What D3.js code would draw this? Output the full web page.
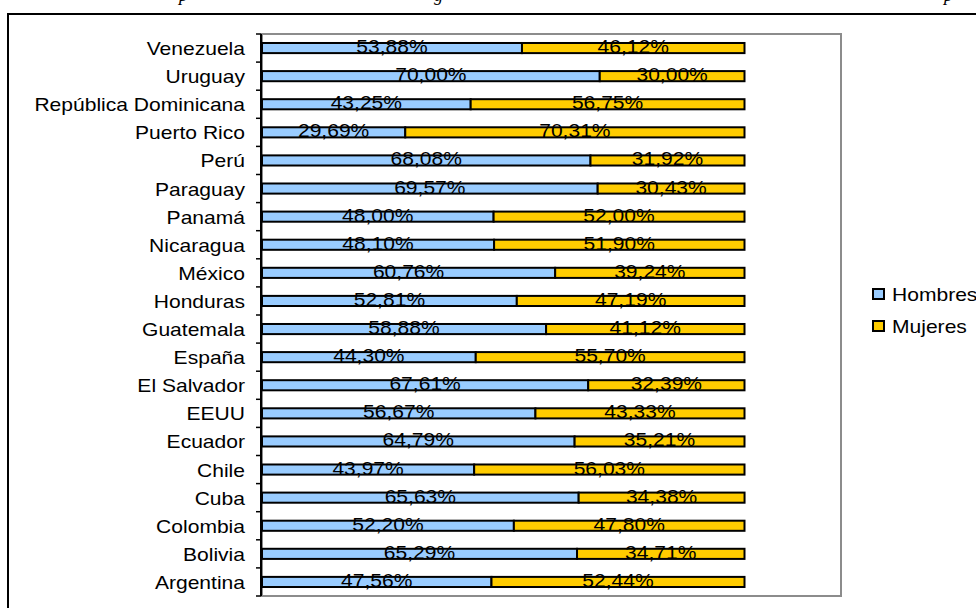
<!DOCTYPE html>
<html>
<head>
<meta charset="utf-8">
<script src="https://cdn.jsdelivr.net/npm/d3@7"></script>
<style>
  body { margin: 0; background: #fff; }
  svg { display: block; }
  text { font-family: "Liberation Sans", Arial, sans-serif; fill: #000; }
</style>
</head>
<body>
<svg width="976" height="608"></svg>
<script>
// datos: porcentaje de hombres y mujeres por país
var paises = ["Venezuela", "Uruguay", "República Dominicana", "Puerto Rico", "Perú",
    "Paraguay", "Panamá", "Nicaragua", "México", "Honduras", "Guatemala", "España",
    "El Salvador", "EEUU", "Ecuador", "Chile", "Cuba", "Colombia", "Bolivia", "Argentina"];
var hombres = [53.88, 70.00, 43.25, 29.69, 68.08, 69.57, 48.00, 48.10, 60.76, 52.81,
    58.88, 44.30, 67.61, 56.67, 64.79, 43.97, 65.63, 52.20, 65.29, 47.56];
var mujeres = [46.12, 30.00, 56.75, 70.31, 31.92, 30.43, 52.00, 51.90, 39.24, 47.19,
    41.12, 55.70, 32.39, 43.33, 35.21, 56.03, 34.38, 47.80, 34.71, 52.44];
var series = ["Hombres", "Mujeres"];
var colores = ["#99CCFF", "#FFCC00"];
var tituloLetras = ["p", "g", "p"];   // restos del título cortado arriba

var stretch = 1.17;
var plot = {left: 262, right: 841, top: 34, bottom: 596};

var svg = d3.select("svg");

// marco exterior
svg.append("path")
    .attr("d", "M8,620 L8,14 L990,14")
    .attr("fill", "none")
    .attr("stroke", "#000")
    .attr("stroke-width", 2);

// restos del título (solo se ven los trazos descendentes)
svg.selectAll(".tit")
    .data(tituloLetras)
    .enter().append("text")
    .attr("class", "tit")
    .attr("x", function (d, i) { return [179, 434, 944][i]; })
    .attr("y", 1)
    .style("font-family", "'Liberation Serif', serif")
    .style("font-style", "italic")
    .style("font-size", "18px")
    .text(function (d) { return d; });

var x = d3.scaleLinear().domain([0, 120]).range([plot.left, plot.right]);
var y = d3.scaleBand().domain(paises).range([plot.top, plot.bottom])
    .paddingInner(0.64).paddingOuter(0.32);

// borde del área de trazado
svg.append("rect")
    .attr("x", plot.left)
    .attr("y", plot.top)
    .attr("width", plot.right - plot.left)
    .attr("height", plot.bottom - plot.top)
    .attr("fill", "none")
    .attr("stroke", "#8c8c8c")
    .attr("stroke-width", 2);

// apilar
var filas = paises.map(function (p, i) {
    return {pais: p, Hombres: hombres[i], Mujeres: mujeres[i]};
});
var stack = d3.stack().keys(series)(filas);

var grupos = svg.selectAll(".serie")
    .data(stack)
    .enter().append("g")
    .attr("class", "serie")
    .attr("fill", function (d, i) { return colores[i]; });

grupos.selectAll("rect")
    .data(function (d) { return d; })
    .enter().append("rect")
    .attr("x", function (d) { return x(d[0]); })
    .attr("y", function (d) { return y(d.data.pais); })
    .attr("width", function (d) { return x(d[1]) - x(d[0]); })
    .attr("height", y.bandwidth())
    .attr("stroke", "#000")
    .attr("stroke-width", 2);

// etiquetas de valor
var fmt = function (v) { return v.toFixed(2).replace(".", ",") + "%"; };
grupos.selectAll(".val")
    .data(function (d) { return d; })
    .enter().append("text")
    .attr("class", "val")
    .attr("text-anchor", "middle")
    .attr("transform", function (d) {
        var cx = (x(d[0]) + x(d[1])) / 2;
        var cy = y(d.data.pais) + y.bandwidth() / 2 + 5;
        return "translate(" + cx + "," + cy + ") scale(" + stretch + ",1)";
    })
    .style("font-size", "18px")
    .style("fill", "#000")
    .text(function (d) { return fmt(d[1] - d[0]); });

// eje vertical
var ejeY = svg.append("g");
ejeY.append("line")
    .attr("x1", plot.left - 1).attr("x2", plot.left - 1)
    .attr("y1", plot.top).attr("y2", plot.bottom)
    .attr("stroke", "#000").attr("stroke-width", 2);

var bordes = d3.range(paises.length + 1).map(function (i) {
    return plot.top + i * y.step();
});
ejeY.selectAll(".tick")
    .data(bordes)
    .enter().append("line")
    .attr("x1", plot.left - 6).attr("x2", plot.left - 1)
    .attr("y1", function (d) { return d; })
    .attr("y2", function (d) { return d; })
    .attr("stroke", "#000").attr("stroke-width", 1.5);

ejeY.selectAll(".cat")
    .data(paises)
    .enter().append("text")
    .attr("class", "cat")
    .attr("text-anchor", "end")
    .attr("transform", function (d) {
        var cy = y(d) + y.bandwidth() / 2 + 7;
        return "translate(" + (plot.left - 17) + "," + cy + ") scale(" + stretch + ",1)";
    })
    .style("font-size", "18px")
    .text(function (d) { return d; });

// leyenda
var leyenda = svg.selectAll(".ley")
    .data(series)
    .enter().append("g")
    .attr("class", "ley")
    .attr("transform", function (d, i) { return "translate(872," + (288 + i * 32) + ")"; });

leyenda.append("rect")
    .attr("x", 1).attr("y", 1)
    .attr("width", 11).attr("height", 10)
    .attr("fill", function (d, i) { return colores[i]; })
    .attr("stroke", "#000").attr("stroke-width", 2);

leyenda.append("text")
    .attr("transform", "translate(20,12.5) scale(" + stretch + ",1)")
    .style("font-size", "18px")
    .text(function (d) { return d; });
</script>
</body>
</html>
